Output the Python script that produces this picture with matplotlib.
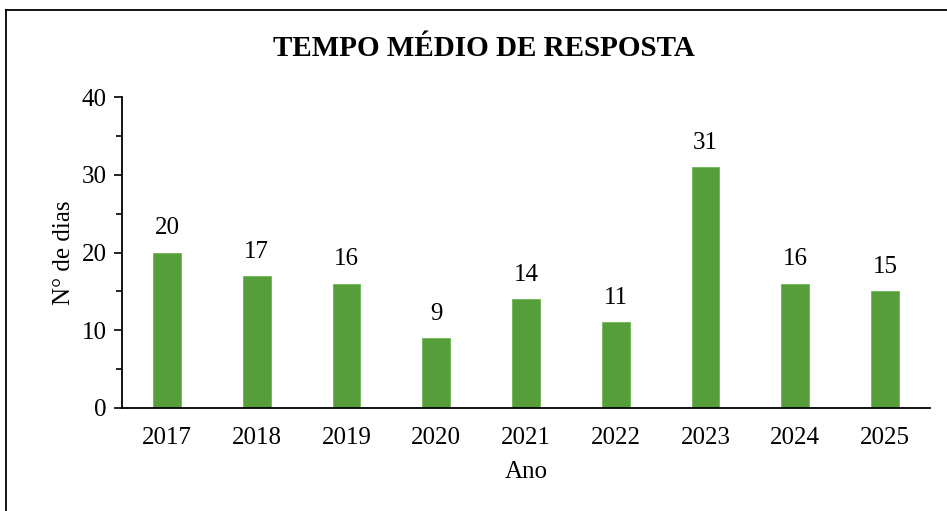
import matplotlib
matplotlib.use("Agg")
import matplotlib.pyplot as plt
from matplotlib.lines import Line2D
from matplotlib.ticker import MultipleLocator

plt.rcParams["font.family"] = ["Liberation Serif", "DejaVu Serif"]

anos = ["2017", "2018", "2019", "2020", "2021", "2022", "2023", "2024", "2025"]
dias = [20, 17, 16, 9, 14, 11, 31, 16, 15]

W, H = 947, 511
fig = plt.figure(figsize=(W / 100, H / 100), dpi=100)
ax = fig.add_axes([122 / W, 1 - 408 / H, (930 - 122) / W, (408 - 97) / H])

x = range(len(anos))
bars = ax.bar(x, dias, width=0.31, color="#559E3A", edgecolor="#6DB552", linewidth=0.6, zorder=2)
for b, v in zip(bars, dias):
    ax.text(b.get_x() + b.get_width() / 2, v + 1.7, str(v), ha="center", va="bottom", fontsize=18)

ax.set_xlim(-0.5, len(anos) - 0.5)
ax.set_ylim(0, 40)
ax.set_xticks(list(x))
ax.set_xticklabels(anos, fontsize=18)
ax.yaxis.set_major_locator(MultipleLocator(10))
ax.yaxis.set_minor_locator(MultipleLocator(5))
ax.tick_params(axis="y", which="major", labelsize=18, length=6, width=1.2, direction="out", pad=5)
ax.tick_params(axis="y", which="minor", length=4, width=1.2, direction="out")
ax.tick_params(axis="x", length=0, pad=14)

for s in ["top", "right"]:
    ax.spines[s].set_visible(False)
ax.spines["left"].set_linewidth(1.3)
ax.spines["bottom"].set_linewidth(1.3)

ax.set_ylabel("N° de dias", fontsize=18, labelpad=5)
ax.set_xlabel("Ano", fontsize=18, labelpad=8)

fig.text(484 / W, 1 - 48 / H, "TEMPO MÉDIO DE RESPOSTA",
         ha="center", va="center", fontsize=21, fontweight="bold")

# moldura da figura (cortada à direita e em baixo)
fig.add_artist(Line2D([5.5 / W, 5.5 / W], [1 - 10 / H, 0], color="black", lw=1.3))
fig.add_artist(Line2D([5.5 / W, 1], [1 - 10 / H, 1 - 10 / H], color="black", lw=1.3))

fig.savefig("out.png", dpi=100)
